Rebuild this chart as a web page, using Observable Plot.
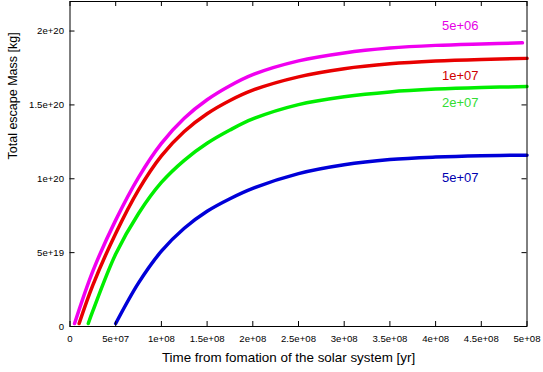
<!DOCTYPE html>
<html><head><meta charset="utf-8">
<script src="https://cdn.jsdelivr.net/npm/d3@7"></script>
<script src="https://cdn.jsdelivr.net/npm/@observablehq/plot@0.6"></script>
<style>body{margin:0;background:#fff}</style>
</head><body><div id="chart"></div>
<script>
// Series (formation time of each case)
const seriesNames = ["5e+06", "1e+07", "2e+07", "5e+07"];

// Time [yr]
const tMagenta = [5e6, 2.5e7, 5e7, 7.5e7, 1e8, 1.25e8, 1.5e8, 1.75e8, 2e8, 2.5e8, 3e8, 3.5e8, 4e8, 4.5e8, 4.95e8];
const tRed     = [1e7, 2.5e7, 5e7, 7.5e7, 1e8, 1.25e8, 1.5e8, 1.75e8, 2e8, 2.5e8, 3e8, 3.5e8, 4e8, 4.5e8, 5e8];
const tGreen   = [2e7, 2.5e7, 5e7, 7.5e7, 1e8, 1.25e8, 1.5e8, 1.75e8, 2e8, 2.5e8, 3e8, 3.5e8, 4e8, 4.5e8, 5e8];
const tBlue    = [5e7, 7.5e7, 1e8, 1.25e8, 1.5e8, 1.75e8, 2e8, 2.5e8, 3e8, 3.5e8, 4e8, 4.5e8, 5e8];

// Total escape mass [kg]
const mMagenta = [0.02e20, 0.375e20, 0.72e20, 1.01e20, 1.24e20, 1.41e20, 1.535e20, 1.63e20, 1.705e20, 1.798e20, 1.852e20, 1.885e20, 1.903e20, 1.913e20, 1.92e20];
const mRed     = [0.02e20, 0.28e20, 0.63e20, 0.925e20, 1.155e20, 1.32e20, 1.44e20, 1.53e20, 1.60e20, 1.69e20, 1.745e20, 1.778e20, 1.797e20, 1.808e20, 1.815e20];
const mGreen   = [0.02e20, 0.105e20, 0.49e20, 0.765e20, 0.975e20, 1.125e20, 1.24e20, 1.33e20, 1.405e20, 1.502e20, 1.555e20, 1.588e20, 1.607e20, 1.618e20, 1.624e20];
const mBlue    = [0.02e20, 0.295e20, 0.51e20, 0.665e20, 0.78e20, 0.865e20, 0.935e20, 1.035e20, 1.095e20, 1.13e20, 1.147e20, 1.156e20, 1.16e20];

// Ticks
const xTicks = [0, 5e7, 1e8, 1.5e8, 2e8, 2.5e8, 3e8, 3.5e8, 4e8, 4.5e8, 5e8];
const xTickLabels = ["0", "5e+07", "1e+08", "1.5e+08", "2e+08", "2.5e+08", "3e+08", "3.5e+08", "4e+08", "4.5e+08", "5e+08"];
const yTicks = [0, 5e19, 1e20, 1.5e20, 2e20];
const yTickLabels = ["0", "5e+19", "1e+20", "1.5e+20", "2e+20"];

const xTitle = "Time from fomation of the solar system [yr]";
const yTitle = "Total escape Mass [kg]";

// Styles
const lineColors  = ["#f000f0", "#e80000", "#00ee00", "#0000d8"];
const labelColors = ["#e600e6", "#d00000", "#33dd33", "#0000b0"];
const labelDy = [-18, 16, 15.5, 22.5];

const times = [tMagenta, tRed, tGreen, tBlue];
const masses = [mMagenta, mRed, mGreen, mBlue];
const rows = [];
seriesNames.forEach((s, i) => times[i].forEach((t, j) => rows.push({series: s, t, m: masses[i][j], i})));

const W = 543, H = 372, mL = 69.5, mR = 16.5, mT = 1, mB = 46;
const fw = W - mL - mR, fh = H - mT - mB;
const font = "'Liberation Sans', Arial, Helvetica, sans-serif";

const labelMarks = seriesNames.map((s, i) => {
  const j = times[i].indexOf(4.5e8);
  return Plot.text([{t: times[i][j], m: masses[i][j]}], {
    x: "t", y: "m", text: () => s, fill: labelColors[i],
    dx: -21, dy: labelDy[i], fontSize: 13
  });
});

const chart = Plot.plot({
  width: W, height: H,
  marginLeft: mL, marginRight: mR, marginTop: mT, marginBottom: mB,
  style: {fontFamily: font, background: "white", color: "black", overflow: "visible"},
  x: {domain: [0, 5e8]},
  y: {domain: [0, 2.2e20]},
  color: {domain: seriesNames, range: lineColors},
  marks: [
    Plot.line(rows, {x: "t", y: "m", z: "series", stroke: "series", strokeWidth: 3.5, curve: "catmull-rom"}),
    ...labelMarks,
    Plot.tickX(xTicks, {x: d => d, insetTop: fh - 5, stroke: "black"}),
    Plot.tickX(xTicks, {x: d => d, insetBottom: fh - 5, stroke: "black"}),
    Plot.tickY(yTicks, {y: d => d, insetRight: fw - 5, stroke: "black"}),
    Plot.tickY(yTicks, {y: d => d, insetLeft: fw - 5, stroke: "black"}),
    Plot.frame({stroke: "black", strokeWidth: 1}),
    Plot.axisX(xTicks, {tickSize: 0, tickPadding: 9, fontSize: 9.6, label: null,
      tickFormat: d => xTickLabels[xTicks.indexOf(d)]}),
    Plot.axisY(yTicks, {tickSize: 0, tickPadding: 6, fontSize: 9.6, label: null,
      tickFormat: d => yTickLabels[yTicks.indexOf(d)]}),
    Plot.text([xTitle], {frameAnchor: "bottom", text: d => d, dx: -10, dy: 35.5, fontSize: 13.4, fill: "black"}),
    Plot.text([yTitle], {frameAnchor: "left", text: d => d, rotate: -90, dx: -57, dy: -4.5, fontSize: 12.5, fill: "black"})
  ]
});
document.getElementById("chart").appendChild(chart);
</script>
</body></html>
